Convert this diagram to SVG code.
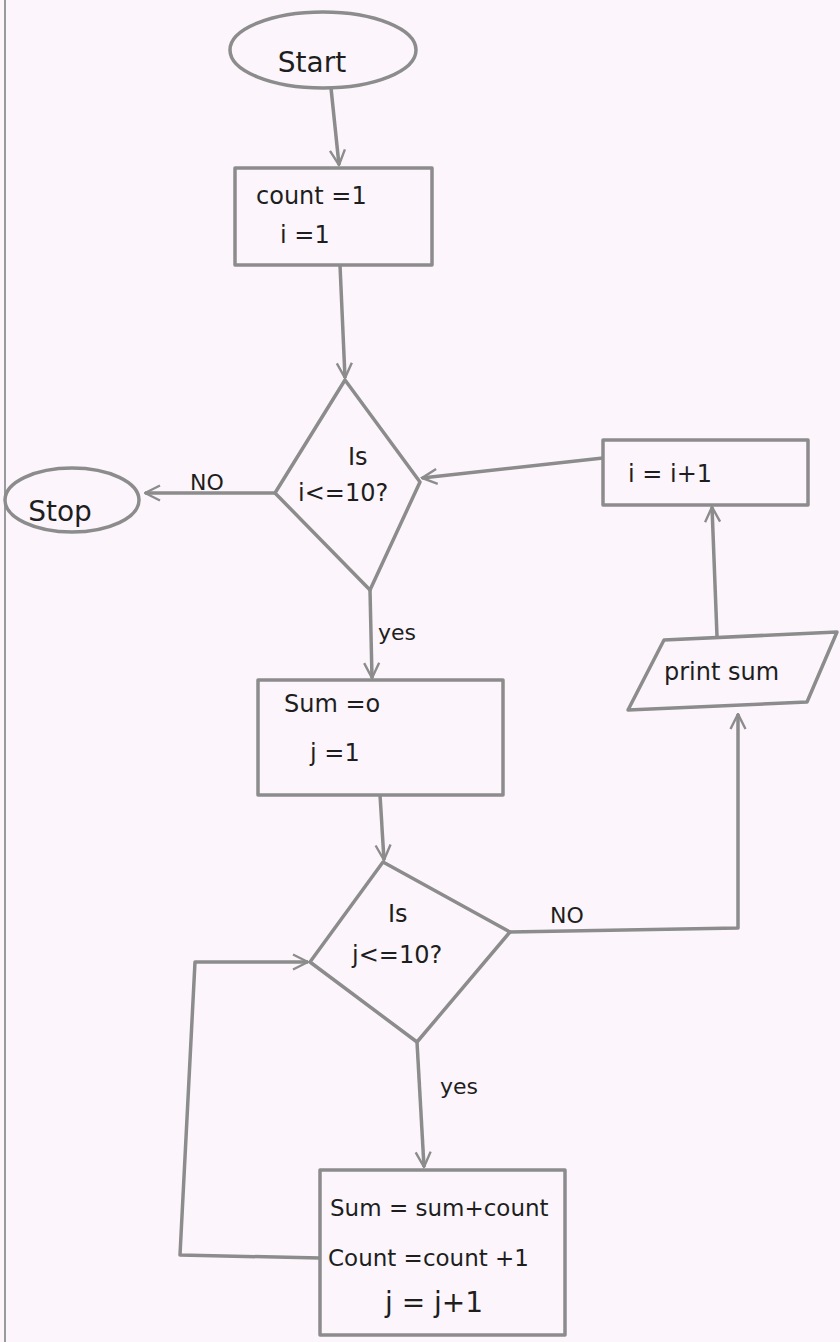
<svg xmlns="http://www.w3.org/2000/svg" width="840" height="1342" viewBox="0 0 840 1342">
<style>
.shape{fill:none;stroke:#8c8c8c;stroke-width:3.5;stroke-linejoin:round}
.conn{fill:none;stroke:#8c8c8c;stroke-width:3.5;stroke-linejoin:round}
.t{font-family:"DejaVu Sans","Noto Sans",sans-serif;font-size:24px;fill:#1e1e1e}
.big{font-size:28px}
.mid{font-size:23px}
.lbl{font-family:"DejaVu Sans","Noto Sans",sans-serif;font-size:22px;fill:#1e1e1e}
</style>
<defs>
<marker id="arr" viewBox="0 0 12 12" refX="11" refY="6" markerWidth="18" markerHeight="18" orient="auto" markerUnits="userSpaceOnUse">
<path d="M1,1 L11,6 L1,11" fill="none" stroke="#8c8c8c" stroke-width="1.6"/>
</marker>
</defs>
<rect x="0" y="0" width="840" height="1342" fill="#fcf6fc"/>
<line x1="5" y1="0" x2="5" y2="1342" stroke="#9a9a9a" stroke-width="2"/>

<g id="start">
<ellipse class="shape" cx="323" cy="50" rx="93" ry="38"/>
<text class="t big" x="312" y="72" text-anchor="middle">Start</text>
</g>
<g id="init">
<rect class="shape" x="235" y="168" width="197" height="97"/>
<text class="t" x="256" y="204">count =1</text>
<text class="t" x="280" y="243">i =1</text>
</g>
<g id="cond_i">
<polygon class="shape" points="345,380 420,482 370,590 275,493"/>
<text class="t" x="348" y="465">Is</text>
<text class="t" x="298" y="501">i&lt;=10?</text>
</g>
<g id="stop">
<ellipse class="shape" cx="72" cy="500" rx="67" ry="32"/>
<text class="t big" x="60" y="521" text-anchor="middle">Stop</text>
</g>
<g id="inc_i">
<rect class="shape" x="603" y="440" width="205" height="65"/>
<text class="t" x="628" y="482">i = i+1</text>
</g>
<g id="print">
<polygon class="shape" points="664,640 837,632 807,702 628,710"/>
<text class="t" x="664" y="680">print sum</text>
</g>
<g id="init_sum">
<rect class="shape" x="258" y="680" width="245" height="115"/>
<text class="t" x="284" y="712">Sum =o</text>
<text class="t" x="310" y="761">j =1</text>
</g>
<g id="cond_j">
<polygon class="shape" points="383,862 510,932 417,1042 310,962"/>
<text class="t" x="388" y="922">Is</text>
<text class="t" x="352" y="963">j&lt;=10?</text>
</g>
<g id="body">
<rect class="shape" x="320" y="1170" width="245" height="165"/>
<text class="t mid" x="330" y="1216">Sum = sum+count</text>
<text class="t mid" x="328" y="1266">Count =count +1</text>
<text class="t big" x="385" y="1312">j = j+1</text>
</g>

<g id="connectors">
<path class="conn" d="M331,88 L339,165" marker-end="url(#arr)"/>
<path class="conn" d="M340,265 L345,378" marker-end="url(#arr)"/>
<path class="conn" d="M275,493 L145,493" marker-end="url(#arr)"/>
<path class="conn" d="M603,458 L422,478" marker-end="url(#arr)"/>
<path class="conn" d="M370,590 L372,678" marker-end="url(#arr)"/>
<path class="conn" d="M717,636 L712,507" marker-end="url(#arr)"/>
<path class="conn" d="M380,795 L384,860" marker-end="url(#arr)"/>
<path class="conn" d="M510,932 L738,928 L738,714" marker-end="url(#arr)"/>
<path class="conn" d="M417,1042 L424,1167" marker-end="url(#arr)"/>
<path class="conn" d="M320,1258 L180,1255 L195,962 L308,962" marker-end="url(#arr)"/>
<text class="lbl" x="190" y="490">NO</text>
<text class="lbl" x="378" y="640">yes</text>
<text class="lbl" x="550" y="923">NO</text>
<text class="lbl" x="440" y="1094">yes</text>
</g>
</svg>
